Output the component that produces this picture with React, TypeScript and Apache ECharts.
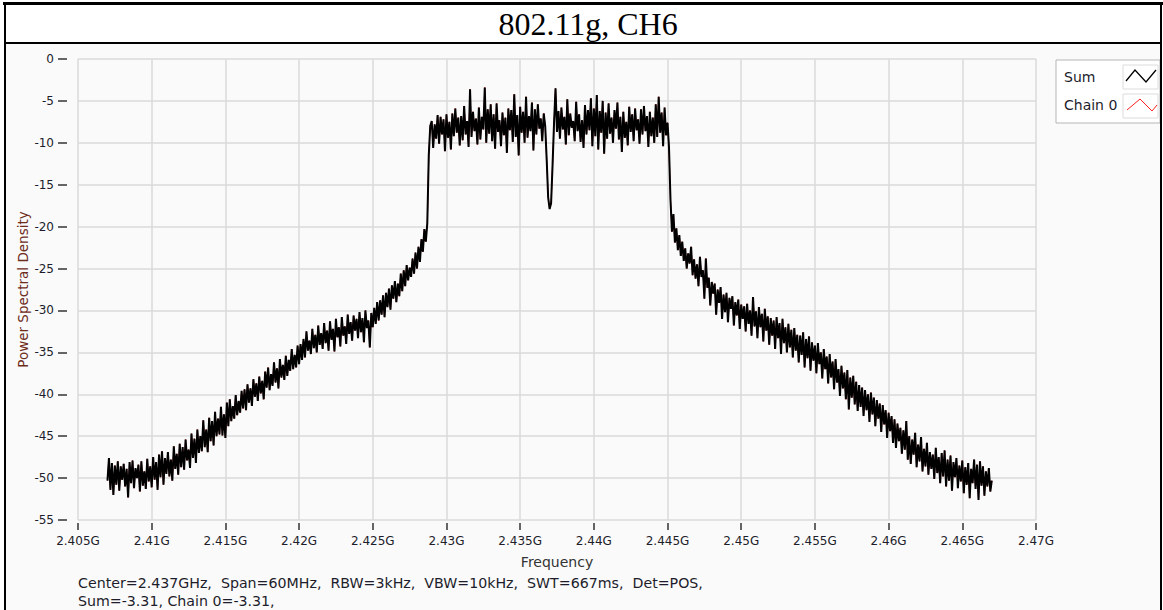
import React, { useEffect, useRef } from "react";
import * as echarts from "echarts";

const TITLE = "802.11g, CH6";
const X_NAME = "Frequency";
const Y_NAME = "Power Spectral Density";
const INFO_LINE_1 = "Center=2.437GHz,  Span=60MHz,  RBW=3kHz,  VBW=10kHz,  SWT=667ms,  Det=POS,";
const INFO_LINE_2 = "Sum=-3.31, Chain 0=-3.31,";
const LEGEND_NAMES = ["Sum", "Chain 0"];

// frequency axis in MHz
const X_MIN = 2405;
const X_MAX = 2470;
const X_STEP = 5;
const Y_MIN = -55;
const Y_MAX = 0;
const Y_STEP = 5;

// trace sampling: first point and spacing (MHz)
const START_MHZ = 2407;
const STEP_MHZ = 0.1;

// Sum trace (dB)
const sumValues = [
  -50.3,-47.6,-51.4,-48.2,-52.0,-48.5,-50.8,-48.0,-51.5,-48.6,
  -50.2,-48.3,-51.0,-48.9,-52.3,-48.1,-50.6,-47.9,-51.2,-48.8,
  -50.0,-48.4,-51.6,-48.0,-50.9,-49.2,-51.3,-47.7,-50.4,-48.6,
  -51.1,-47.5,-50.2,-48.1,-51.4,-47.2,-49.9,-46.8,-50.8,-47.6,
  -49.5,-46.9,-49.8,-47.8,-50.3,-46.2,-48.9,-47.1,-49.6,-45.9,
  -48.7,-46.3,-49.0,-45.4,-47.9,-46.6,-48.8,-44.7,-47.6,-45.3,
  -48.2,-44.2,-47.0,-45.0,-46.8,-43.1,-46.3,-44.2,-46.9,-42.8,
  -45.6,-43.2,-46.1,-42.1,-45.0,-42.9,-44.8,-41.5,-44.9,-42.4,
  -45.2,-41.0,-43.8,-40.6,-43.2,-41.4,-42.9,-40.1,-42.5,-40.8,
  -42.2,-39.6,-41.7,-39.4,-41.9,-38.8,-41.0,-39.3,-41.4,-38.2,
  -40.3,-38.7,-40.8,-37.9,-39.9,-38.4,-40.6,-37.3,-39.2,-36.8,
  -39.5,-37.6,-39.0,-36.2,-38.6,-36.9,-39.3,-35.8,-38.0,-36.5,
  -38.3,-35.4,-37.8,-35.9,-37.2,-34.6,-37.0,-35.3,-36.8,-34.2,
  -36.4,-34.0,-35.9,-33.4,-35.6,-32.5,-34.8,-33.6,-35.2,-32.2,
  -34.5,-32.9,-35.0,-31.8,-34.1,-32.7,-34.6,-31.5,-33.9,-32.4,
  -34.8,-31.3,-33.5,-32.2,-34.9,-31.0,-33.2,-32.0,-34.3,-30.8,
  -33.0,-31.9,-34.0,-30.5,-32.8,-31.4,-33.6,-30.6,-32.4,-31.0,
  -33.3,-30.2,-32.6,-30.9,-33.8,-30.0,-32.1,-31.2,-34.4,-30.3,
  -32.0,-29.7,-31.6,-29.0,-31.2,-28.8,-30.5,-28.2,-30.8,-27.9,
  -29.6,-27.4,-29.9,-27.0,-28.6,-26.5,-29.0,-26.8,-28.3,-25.6,
  -27.7,-25.2,-27.1,-24.6,-26.4,-24.9,-26.0,-23.8,-25.6,-23.1,
  -25.0,-22.4,-24.2,-21.5,-23.0,-20.3,-21.8,-19.6,-11.5,-8.0,
  -7.4,-10.6,-7.8,-9.5,-6.7,-10.1,-6.9,-9.0,-7.2,-11.0,
  -6.6,-9.4,-7.5,-10.8,-6.5,-9.2,-5.9,-8.8,-7.0,-10.3,
  -6.8,-9.7,-5.6,-9.0,-7.4,-10.5,-3.6,-9.3,-6.3,-8.6,
  -7.1,-10.2,-5.8,-9.6,-6.9,-8.4,-3.4,-10.0,-6.0,-8.9,
  -5.4,-9.8,-6.6,-10.7,-5.3,-8.7,-7.3,-10.4,-6.4,-9.1,
  -7.0,-11.2,-5.9,-8.5,-6.1,-9.9,-4.2,-9.3,-6.7,-11.5,
  -5.7,-8.8,-6.3,-10.0,-4.5,-9.4,-6.8,-8.6,-5.2,-10.9,
  -6.0,-9.0,-5.4,-8.3,-7.1,-9.8,-6.5,-8.0,-12.0,-16.5,
  -17.9,-17.2,-12.6,-7.6,-3.5,-8.7,-6.2,-9.5,-5.8,-8.4,
  -6.9,-10.2,-4.8,-9.1,-6.5,-8.2,-7.4,-9.8,-5.1,-8.6,
  -6.6,-9.9,-7.3,-10.6,-5.5,-9.0,-6.1,-8.5,-4.7,-10.4,
  -5.9,-9.2,-4.3,-10.8,-6.2,-8.8,-5.0,-11.3,-6.4,-9.5,
  -5.3,-8.9,-7.0,-10.0,-6.1,-8.3,-5.2,-9.6,-6.9,-11.1,
  -6.3,-9.4,-7.5,-10.3,-5.7,-8.7,-6.6,-9.8,-5.9,-8.5,
  -7.2,-10.1,-6.0,-9.0,-5.6,-8.6,-6.8,-10.5,-6.3,-9.2,
  -7.0,-10.0,-5.4,-9.3,-4.5,-8.8,-6.4,-10.4,-5.8,-9.1,
  -7.6,-10.6,-16.8,-20.6,-18.5,-21.9,-20.2,-22.8,-21.0,-23.5,
  -21.8,-24.1,-22.6,-25.0,-23.2,-24.4,-22.4,-25.8,-23.9,-26.2,
  -24.5,-27.1,-23.6,-26.0,-25.2,-28.6,-23.8,-27.3,-26.1,-29.4,
  -26.6,-28.0,-26.8,-30.5,-27.5,-29.1,-27.2,-31.0,-28.1,-30.2,
  -27.9,-31.4,-28.5,-29.8,-28.3,-31.8,-29.0,-30.6,-28.7,-32.2,
  -29.3,-31.0,-29.5,-32.5,-29.2,-31.6,-30.0,-33.0,-28.4,-31.9,
  -30.1,-33.3,-29.6,-32.0,-30.4,-33.7,-29.8,-32.4,-30.7,-34.1,
  -30.9,-33.0,-31.2,-34.6,-30.8,-33.3,-31.5,-35.2,-31.0,-33.9,
  -32.0,-35.0,-31.6,-34.4,-32.3,-35.6,-32.1,-34.8,-32.9,-36.2,
  -33.0,-35.3,-32.6,-36.8,-33.4,-35.7,-33.1,-37.2,-33.8,-36.0,
  -34.2,-37.5,-33.9,-36.4,-35.0,-38.1,-34.6,-37.0,-35.5,-38.7,
  -35.2,-38.0,-36.1,-39.4,-35.8,-38.6,-37.0,-40.2,-36.6,-39.3,
  -37.4,-40.6,-37.1,-41.8,-38.0,-40.4,-37.8,-41.2,-38.5,-42.0,
  -38.9,-41.5,-39.2,-42.6,-39.5,-41.9,-40.0,-43.3,-39.8,-42.4,
  -40.4,-43.8,-40.7,-42.9,-41.1,-44.5,-41.3,-43.6,-41.9,-45.2,
  -42.2,-44.4,-42.6,-45.8,-43.0,-46.4,-43.5,-45.6,-44.0,-47.1,
  -44.3,-46.6,-43.2,-47.8,-45.0,-48.3,-45.4,-47.2,-44.6,-48.7,
  -46.0,-48.0,-45.1,-49.2,-46.5,-48.6,-45.8,-49.6,-46.9,-48.9,
  -47.2,-50.1,-46.4,-49.4,-47.5,-50.6,-47.0,-49.8,-46.7,-51.0,
  -47.8,-50.3,-47.3,-51.5,-48.1,-49.9,-47.6,-51.2,-48.5,-50.4,
  -47.9,-51.8,-48.7,-50.8,-48.2,-52.4,-48.9,-50.6,-47.8,-51.3,
  -48.4,-52.6,-48.0,-50.9,-48.6,-52.1,-49.2,-51.0,-48.8,-51.6,
  -50.3,
];

// Chain 0 equals Sum (single chain)
const chain0Values = sumValues;

const FONT = "'DejaVu Sans', Verdana, sans-serif";

export default function App() {
  const ref = useRef<HTMLDivElement>(null);

  useEffect(() => {
    if (!ref.current) return;
    const chart = echarts.init(ref.current, null, { renderer: "svg" });
    const toPts = (vals: number[]) => vals.map((v, i) => [START_MHZ + i * STEP_MHZ, v]);

    const option: any = {
      animation: false,
      backgroundColor: "#ffffff",
      grid: { left: 78, right: 127, top: 59, bottom: 90, containLabel: false },
      xAxis: {
        type: "value",
        min: X_MIN,
        max: X_MAX,
        interval: X_STEP,
        offset: 3,
        position: "bottom",
        axisLine: { show: false, onZero: false },
        axisTick: { show: true, length: 7, lineStyle: { color: "#333", width: 1.5 } },
        axisLabel: {
          margin: 12,
          color: "#1d1d2b",
          fontSize: 12,
          fontFamily: FONT,
          formatter: (v: number) => `${v / 1000}G`,
        },
        splitLine: { show: true, lineStyle: { color: "#dadada", width: 1.5 } },
        name: X_NAME,
        nameLocation: "middle",
        nameGap: 32,
        nameMoveOverlap: false,
        nameTextStyle: { color: "#333", fontSize: 14, fontFamily: FONT },
      },
      yAxis: {
        type: "value",
        min: Y_MIN,
        max: Y_MAX,
        interval: Y_STEP,
        offset: 11,
        axisLine: { show: false, onZero: false },
        axisTick: { show: true, length: 9, lineStyle: { color: "#333", width: 1.5 } },
        axisLabel: { margin: 13, color: "#1d1d2b", fontSize: 12, fontFamily: FONT },
        splitLine: { show: true, lineStyle: { color: "#dadada", width: 1.5 } },
        name: Y_NAME,
        nameLocation: "middle",
        nameGap: 37,
        nameMoveOverlap: false,
        nameTextStyle: { color: "#6e2c1a", fontSize: 13.5, fontFamily: FONT },
      },
      graphic: [
        { type: "rect", z: -10, silent: true, shape: { x: 6, y: 44, width: 1154, height: 566 }, style: { fill: "#fafafa" } },
        { type: "rect", z: 50, silent: true, shape: { x: 3, y: 2, width: 1160, height: 3 }, style: { fill: "#000" } },
        { type: "rect", z: 50, silent: true, shape: { x: 4, y: 2, width: 2, height: 608 }, style: { fill: "#000" } },
        { type: "rect", z: 50, silent: true, shape: { x: 1160, y: 2, width: 2, height: 608 }, style: { fill: "#000" } },
        { type: "rect", z: 50, silent: true, shape: { x: 4, y: 42, width: 1158, height: 2 }, style: { fill: "#000" } },
        {
          type: "text", z: 50, x: 588, y: 24, silent: true,
          style: { text: TITLE, fill: "#000", font: "32px 'Liberation Serif', 'Times New Roman', serif", textAlign: "center", textVerticalAlign: "middle" },
        },
        {
          type: "text", z: 50, x: 78, y: 583, silent: true,
          style: { text: INFO_LINE_1, fill: "#1d1d2b", font: `14.2px ${FONT}`, textVerticalAlign: "middle" },
        },
        {
          type: "text", z: 50, x: 78, y: 601, silent: true,
          style: { text: INFO_LINE_2, fill: "#1d1d2b", font: `14.2px ${FONT}`, textVerticalAlign: "middle" },
        },
        // legend
        { type: "rect", z: 40, silent: true, shape: { x: 1056, y: 60, width: 104, height: 63 }, style: { fill: "#fff", stroke: "#b5b5b5", lineWidth: 1 } },
        { type: "text", z: 41, x: 1064, y: 77, silent: true, style: { text: LEGEND_NAMES[0], fill: "#1d1d2b", font: `14px ${FONT}`, textVerticalAlign: "middle" } },
        { type: "rect", z: 41, silent: true, shape: { x: 1123, y: 65, width: 35, height: 24 }, style: { fill: "#fff", stroke: "#dcdcdc", lineWidth: 1 } },
        { type: "polyline", z: 42, silent: true, shape: { points: [[1126, 81], [1135, 70], [1146, 82], [1156, 70]] }, style: { stroke: "#000", lineWidth: 1.3, fill: "none" } },
        { type: "text", z: 41, x: 1064, y: 105, silent: true, style: { text: LEGEND_NAMES[1], fill: "#1d1d2b", font: `14px ${FONT}`, textVerticalAlign: "middle" } },
        { type: "rect", z: 41, silent: true, shape: { x: 1123, y: 94, width: 35, height: 24 }, style: { fill: "#fff", stroke: "#dcdcdc", lineWidth: 1 } },
        { type: "polyline", z: 42, silent: true, shape: { points: [[1127, 110], [1140, 99], [1152, 111], [1157, 105]] }, style: { stroke: "#ff2020", lineWidth: 1, fill: "none" } },
      ],
      series: [
        {
          type: "line",
          name: LEGEND_NAMES[1],
          data: toPts(chain0Values),
          showSymbol: false,
          silent: true,
          z: 2,
          lineStyle: { color: "#ff2020", width: 1 },
        },
        {
          type: "line",
          name: LEGEND_NAMES[0],
          data: toPts(sumValues),
          showSymbol: false,
          silent: true,
          z: 3,
          lineStyle: { color: "#000000", width: 2 },
        },
      ],
    };
    chart.setOption(option);
    return () => chart.dispose();
  }, []);

  return (
    <div
      ref={ref}
      style={{ position: "fixed", left: 0, top: 0, width: 1163, height: 610, background: "#fff" }}
    />
  );
}
